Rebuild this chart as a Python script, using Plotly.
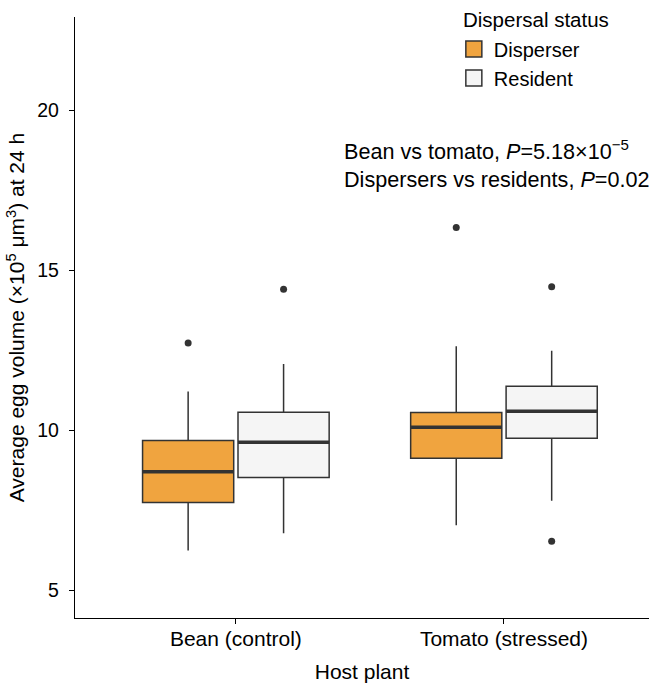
import plotly.graph_objects as go

# ---- data ----
hosts = ["Bean (control)", "Tomato (stressed)"]
groups = ["Disperser", "Resident"]
colors = {"Disperser": "#F0A43F", "Resident": "#F5F5F5"}

lower = {"Disperser": [6.25, 7.04], "Resident": [6.79, 7.80]}
q1 = {"Disperser": [7.75, 9.13], "Resident": [8.53, 9.76]}
median = {"Disperser": [8.71, 10.10], "Resident": [9.63, 10.60]}
q3 = {"Disperser": [9.69, 10.56], "Resident": [10.57, 11.38]}
upper = {"Disperser": [11.22, 12.63], "Resident": [12.08, 12.49]}
outliers = {
    "Disperser": [[12.73], [16.34]],
    "Resident": [[14.41], [14.49, 6.54]],
}

yticks = [5, 10, 15, 20]
stat_lines = [
    "Bean vs tomato, <i>P</i>=5.18×10<sup>−5</sup>",
    "Dispersers vs residents, <i>P</i>=0.02",
]

# ---- layout params ----
box_w = 0.34
offsets = {"Disperser": -0.178, "Resident": 0.178}
FONT = "Liberation Sans, Arial, sans-serif"
LINE = "#333333"

fig = go.Figure()
for g in groups:
    xs = [i + offsets[g] for i in range(len(hosts))]
    fig.add_trace(go.Box(
        name=g, x=xs,
        q1=q1[g], median=median[g], q3=q3[g],
        lowerfence=lower[g], upperfence=upper[g],
        width=box_w, whiskerwidth=0,
        fillcolor=colors[g],
        line=dict(color=LINE, width=1.5),
        boxpoints=False, showlegend=False,
    ))
    # thicker median lines
    mx, my = [], []
    for x, m in zip(xs, median[g]):
        mx += [x - box_w / 2, x + box_w / 2, None]
        my += [m, m, None]
    fig.add_trace(go.Scatter(x=mx, y=my, mode="lines",
                             line=dict(color=LINE, width=3.5),
                             showlegend=False, hoverinfo="skip"))
    ox, oy = [], []
    for x, pts in zip(xs, outliers[g]):
        for p in pts:
            ox.append(x)
            oy.append(p)
    fig.add_trace(go.Scatter(x=ox, y=oy, mode="markers",
                             marker=dict(color=LINE, size=7),
                             showlegend=False, hoverinfo="skip"))

# legend entries (square keys)
for g in groups:
    fig.add_trace(go.Scatter(
        x=[None], y=[None], mode="markers", name=g,
        marker=dict(symbol="square", size=17, color=colors[g],
                    line=dict(color=LINE, width=1.5)),
        showlegend=True,
    ))

fig.add_annotation(
    xref="paper", yref="paper", x=0.672, y=1.018,
    xanchor="left", yanchor="top", align="left", showarrow=False,
    text="Dispersal status",
    font=dict(family=FONT, size=20.5, color="#000000"),
)

fig.add_annotation(
    xref="paper", yref="paper", x=0.465, y=0.7546,
    xanchor="left", yanchor="middle", align="left", showarrow=False,
    text="<br>".join(stat_lines),
    font=dict(family=FONT, size=21.6, color="#000000"),
)

fig.update_layout(
    width=649, height=685,
    margin=dict(l=75, r=0, t=17, b=67),
    plot_bgcolor="white", paper_bgcolor="white",
    boxmode="overlay",
    font=dict(family=FONT, size=20, color="#000000"),
    legend=dict(
        x=0.66, y=0.979, xanchor="left", yanchor="top",
        font=dict(size=20), bgcolor="rgba(0,0,0,0)",
        tracegroupgap=0, itemsizing="trace",
    ),
    xaxis=dict(
        range=[-0.6, 1.541], tickmode="array", tickvals=[0, 1], ticktext=hosts,
        showline=True, linecolor="#000000", linewidth=1.3,
        ticks="outside", ticklen=5, tickcolor="#000000",
        ticklabelstandoff=-3,
        showgrid=False, zeroline=False,
        title=dict(text="Host plant", font=dict(size=21), standoff=14),
        tickfont=dict(size=21),
    ),
    yaxis=dict(
        range=[4.14, 22.92], tickvals=yticks,
        showline=True, linecolor="#000000", linewidth=1.3,
        ticks="outside", ticklen=5, tickcolor="#000000",
        ticklabelstandoff=6,
        showgrid=False, zeroline=False,
        title=dict(text="Average egg volume (×10<sup>5</sup> μm<sup>3</sup>) at 24 h",
                   font=dict(size=21), standoff=6),
        tickfont=dict(size=19.5),
    ),
)

fig.write_html("out.html")
